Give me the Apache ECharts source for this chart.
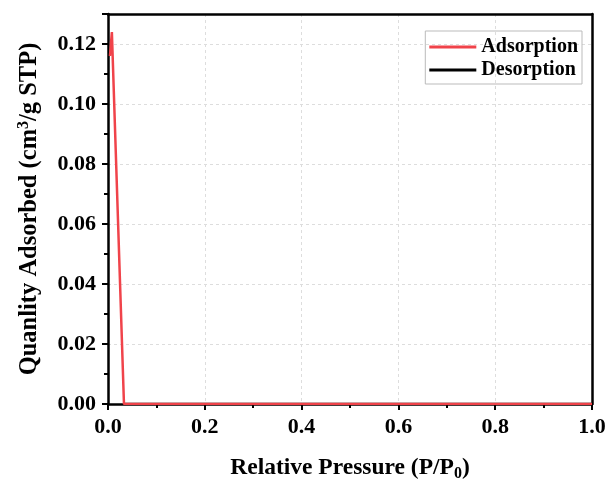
<!DOCTYPE html>
<html><head><meta charset="utf-8">
<script src="https://cdn.jsdelivr.net/npm/echarts@6/dist/echarts.min.js"></script>
<style>html,body{margin:0;padding:0;background:#fff}#c{width:611px;height:484px}</style>
</head><body><div id="c"></div>
<script>
// Data
const adsX = [0.004, 0.008, 0.010, 0.033, 0.05, 0.1, 0.2, 0.3, 0.4, 0.5, 0.6, 0.7, 0.8, 0.9, 1.0];
const adsY = [0.116, 0.124, 0.124, 0.0, 0.0, 0.0, 0.0, 0.0, 0.0, 0.0, 0.0, 0.0, 0.0, 0.0, 0.0];
const desX = [0.033, 0.1, 0.2, 0.3, 0.4, 0.5, 0.6, 0.7, 0.8, 0.9, 1.0];
const desY = [0.0, 0.0, 0.0, 0.0, 0.0, 0.0, 0.0, 0.0, 0.0, 0.0, 0.0];
const seriesNames = ['Adsorption', 'Desorption'];

const font = '"Liberation Serif", "Times New Roman", serif';
const chart = echarts.init(document.getElementById('c'), null, {renderer: 'canvas'});
const zip = (a, b) => a.map((v, i) => [v, b[i]]);
const frameAxis = {show: true, axisLine: {show: true, onZero: false, lineStyle: {color: '#000', width: 2.5}}, axisTick: {show: false}, axisLabel: {show: false}, splitLine: {show: false}};
chart.setOption({
  animation: false,
  backgroundColor: '#fff',
  grid: {left: 108, right: 19, top: 14, bottom: 80, outerBoundsMode: 'none', containLabel: false},
  legend: {
    data: seriesNames.map(n => ({name: n, icon: 'rect'})), top: 31, right: 29, orient: 'vertical', itemWidth: 47, itemHeight: 3, itemGap: 3,
    borderColor: '#bbb', borderWidth: 1, padding: [6, 4, 4, 4],
    textStyle: {fontFamily: font, fontWeight: 'bold', fontSize: 20, color: '#000'}
  },
  xAxis: [{
    type: 'value', min: 0, max: 1, interval: 0.2,
    name: '{a|Relative Pressure (P/P}{s|0}{a|)}', nameLocation: 'middle', nameGap: 50,
    nameTextStyle: {rich: {a: {fontFamily: font, fontWeight: 'bold', fontSize: 23.5, color: '#000'}, s: {fontFamily: font, fontWeight: 'bold', fontSize: 16, color: '#000', verticalAlign: 'bottom', padding: [12, 0, 0, 0]}}},
    axisLine: {onZero: false, lineStyle: {color: '#000', width: 2.5}},
    axisTick: {inside: false, length: 6, lineStyle: {width: 2, color: '#000'}},
    minorTick: {show: true, splitNumber: 2, length: 4, lineStyle: {width: 2, color: '#000'}},
    axisLabel: {fontFamily: font, fontWeight: 'bold', fontSize: 22, color: '#000', margin: 12, formatter: v => v.toFixed(1)},
    splitLine: {show: true, lineStyle: {color: '#ddd', type: [3, 3], width: 1}}
  }, Object.assign({type: 'value', position: 'top', min: 0, max: 1}, frameAxis)],
  yAxis: [{
    type: 'value', min: 0, max: 0.13, interval: 0.02,
    name: '{a|Quanlity Adsorbed (cm}{p|3}{a|/g STP)}', nameLocation: 'middle', nameGap: 64,
    nameTextStyle: {rich: {a: {fontFamily: font, fontWeight: 'bold', fontSize: 24.5, color: '#000'}, p: {fontFamily: font, fontWeight: 'bold', fontSize: 16, color: '#000', verticalAlign: 'top', padding: [0, 0, 12, 0]}}},
    axisLine: {onZero: false, lineStyle: {color: '#000', width: 2.5}},
    axisTick: {inside: false, length: 6, lineStyle: {width: 2, color: '#000'}},
    minorTick: {show: true, splitNumber: 2, length: 4, lineStyle: {width: 2, color: '#000'}},
    axisLabel: {fontFamily: font, fontWeight: 'bold', fontSize: 22, color: '#000', margin: 12, showMaxLabel: false, formatter: v => v.toFixed(2)},
    splitLine: {show: true, lineStyle: {color: '#ddd', type: [3, 3], width: 1}}
  }, Object.assign({type: 'value', position: 'right', min: 0, max: 0.13}, frameAxis)],
  series: [
    {name: seriesNames[1], type: 'line', data: zip(desX, desY), symbol: 'none', lineStyle: {color: '#000', width: 2.5}, itemStyle: {color: '#000'}, z: 2},
    {name: seriesNames[0], type: 'line', data: zip(adsX, adsY), symbol: 'none', lineStyle: {color: '#f0434a', width: 2.5}, itemStyle: {color: '#f0434a'}, z: 3}
  ]
});
</script></body></html>
